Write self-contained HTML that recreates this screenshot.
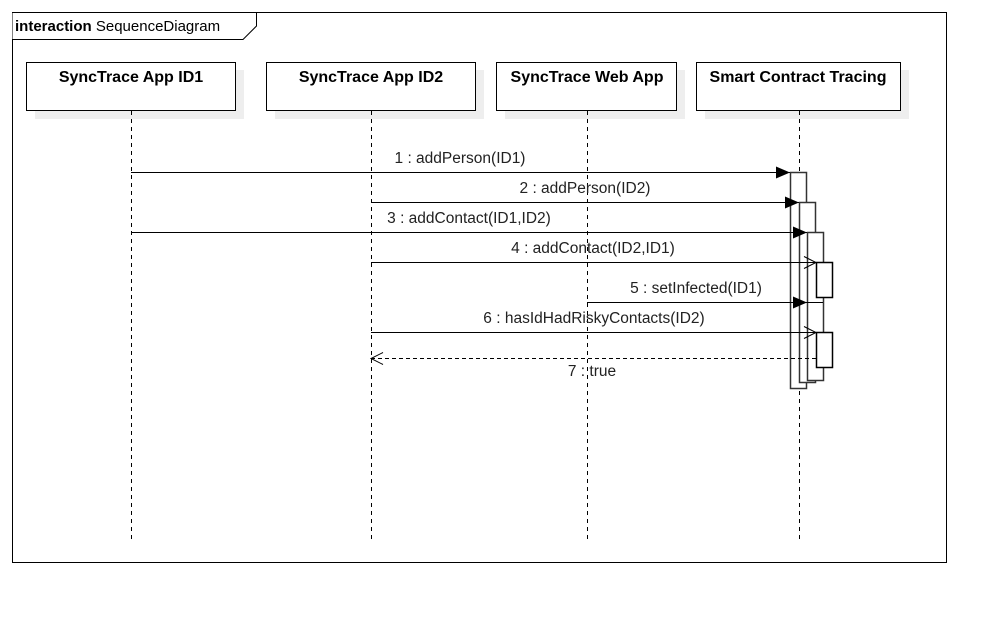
<!DOCTYPE html><html><head><style>body{margin:0;background:#fff}</style></head><body>
<svg width="996" height="612" xmlns="http://www.w3.org/2000/svg" font-family="Liberation Sans, Arial, sans-serif">
<rect x="12.5" y="12.5" width="934" height="550" fill="#fff" stroke="#000"/>
<path d="M12.5 12.5H256.5V26L243 39.5H12.5" fill="#fff" stroke="#000"/>
<text x="15" y="31" font-size="15"><tspan font-weight="bold">interaction</tspan> SequenceDiagram</text>
<g fill="#eee">
<rect x="35" y="70" width="209" height="49"/><rect x="275" y="70" width="209" height="49"/><rect x="505" y="70" width="180" height="49"/><rect x="705" y="70" width="204" height="49"/></g>
<g fill="#fff" stroke="#000">
<rect x="26.5" y="62.5" width="209" height="48"/><rect x="266.5" y="62.5" width="209" height="48"/><rect x="496.5" y="62.5" width="180" height="48"/><rect x="696.5" y="62.5" width="204" height="48"/></g>
<g font-size="16" font-weight="bold" text-anchor="middle">
<text x="131" y="82">SyncTrace App ID1</text><text x="371" y="82">SyncTrace App ID2</text><text x="587" y="82">SyncTrace Web App</text><text x="798" y="82">Smart Contract Tracing</text></g>
<g stroke="#000" stroke-dasharray="4,4"><path d="M131.5 111V542M371.5 111V542M587.5 111V542M799.5 111V542"/></g>
<g fill="#fff" stroke="#000" stroke-width="1.5">
<rect x="790.5" y="172.5" width="16" height="216" stroke="#333"/>
<rect x="799.5" y="202.5" width="16" height="180" stroke="#333"/>
<rect x="807.5" y="232.5" width="16" height="148" stroke="#333"/>
<rect x="816.5" y="262.5" width="16" height="35"/>
<rect x="816.5" y="332.5" width="16" height="35"/></g>
<g stroke="#000" fill="none">
<path d="M131 172.5H790M371 202.5H799M131 232.5H807M371 262.5H816M587 302.5H823M371 332.5H816"/>
<path d="M371 358.5H816" stroke-dasharray="4,3"/>
<path d="M804 256.5L816 262.5L804 268.5M804 326.5L816 332.5L804 338.5M383 352.5L371 358.5L383 364.5"/></g>
<g fill="#000">
<path d="M776 166.5L790 172.5L776 178.5Z"/><path d="M785 196.5L799 202.5L785 208.5Z"/><path d="M793 226.5L807 232.5L793 238.5Z"/><path d="M793 296.5L807 302.5L793 308.5Z"/></g>
<g font-size="15.5" text-anchor="middle" fill="#222">
<text x="460" y="163">1 : addPerson(ID1)</text>
<text x="585" y="193">2 : addPerson(ID2)</text>
<text x="469" y="223">3 : addContact(ID1,ID2)</text>
<text x="593" y="253">4 : addContact(ID2,ID1)</text>
<text x="696" y="293">5 : setInfected(ID1)</text>
<text x="594" y="323">6 : hasIdHadRiskyContacts(ID2)</text>
<text x="592" y="376">7 : true</text></g>
</svg></body></html>
